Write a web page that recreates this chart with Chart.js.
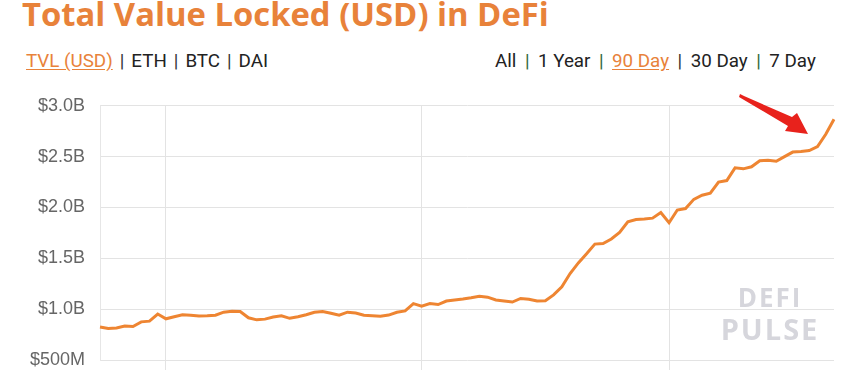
<!DOCTYPE html>
<html>
<head>
<meta charset="utf-8">
<script src="https://cdn.jsdelivr.net/npm/chart.js@4.4.0/dist/chart.umd.min.js"></script>
<style>
  html, body { margin:0; padding:0; background:#fff; width:859px; height:375px; overflow:hidden; }
  #wrap { position:relative; width:859px; height:375px; overflow:hidden; }
  #title { position:absolute; left:22px; top:-9px; font-family:"Open Sans", sans-serif; font-weight:700; font-size:32.8px; color:#e8823a; white-space:nowrap; }
  .row { position:absolute; top:50px; font-family:Roboto, sans-serif; font-size:18.8px; color:#222; white-space:nowrap; }
  .row .act { color:#e8823a; text-decoration:underline; text-underline-offset:2px; }
  .row .sep { color:#333; }
  .row .sepg { color:#2f6a3a; }
  #left .sep { padding:0 7px; }
  #right .sep, #right .sepg { padding:0 8.5px; }
  #left { left:26px; }
  #right { left:495px; }
  #chartbox { position:absolute; left:0; top:80px; width:859px; height:320px; }
  #wm { position:absolute; left:700px; top:282px; width:140px; text-align:center; font-family:"Open Sans", sans-serif; font-weight:700; color:#d6d6dc; line-height:31px; letter-spacing:2px; }
  #wm .a { font-size:26px; }
  #wm .b { font-size:29px; }
  #arrow { position:absolute; left:0; top:0; }
</style>
</head>
<body>
<div id="wrap">
  <div id="title">Total Value Locked (USD) in DeFi</div>
  <div class="row" id="left"><span class="act">TVL (USD)</span><span class="sep">|</span>ETH<span class="sep">|</span>BTC<span class="sep">|</span>DAI</div>
  <div class="row" id="right">All<span class="sepg">|</span>1 Year<span class="sepg">|</span><span class="act">90 Day</span><span class="sep">|</span>30 Day<span class="sepg">|</span>7 Day</div>
  <div id="chartbox"><canvas id="c"></canvas></div>
  <div id="wm"><div class="a">DEFI</div><div class="b">PULSE</div></div>
  <svg id="arrow" width="859" height="375">
    <polygon points="740,94 744,96 792,117 797,113 808,134 785,131 788,126 739,97" fill="#e8221c"/>
  </svg>
</div>
<script>
// Daily dates (Apr 23 – Jul 21, 2020)
const startDate = new Date(2020, 3, 23);
const dayCount = 90;
const dates = [];
for (let i = 0; i < dayCount; i++) {
  const d = new Date(startDate.getTime() + i * 86400000);
  dates.push(d);
}
const categories = dates.map(d => d.toLocaleDateString('en-US', { month: 'short', day: 'numeric' }));

// TVL in USD billions
const tvlBillions = [
  0.825, 0.81, 0.815, 0.835, 0.83, 0.875, 0.882, 0.952, 0.905, 0.925,
  0.945, 0.94, 0.932, 0.935, 0.94, 0.97, 0.98, 0.977, 0.915, 0.895,
  0.902, 0.922, 0.935, 0.91, 0.925, 0.945, 0.97, 0.977, 0.96, 0.94,
  0.97, 0.962, 0.94, 0.935, 0.93, 0.942, 0.97, 0.983, 1.055, 1.03,
  1.055, 1.045, 1.08, 1.09, 1.10, 1.112, 1.127, 1.118, 1.09, 1.08,
  1.07, 1.105, 1.098, 1.08, 1.083, 1.14, 1.22, 1.35, 1.455, 1.545,
  1.64, 1.645, 1.69, 1.755, 1.86, 1.882, 1.886, 1.895, 1.95, 1.85,
  1.975, 1.99, 2.08, 2.12, 2.14, 2.25, 2.265, 2.39, 2.38, 2.40,
  2.46, 2.465, 2.455, 2.50, 2.545, 2.55, 2.56, 2.60, 2.72, 2.868
];
const tvlUsd = tvlBillions.map(v => v * 1e9);

// Y tick values and month-start gridlines
const yTicks = [0.5e9, 1.0e9, 1.5e9, 2.0e9, 2.5e9, 3.0e9];
const monthStarts = dates.map((d, i) => d.getDate() === 1 ? i : -1).filter(i => i >= 0);

function fmtUsd(v) {
  if (v >= 1e9) return '$' + (v / 1e9).toFixed(1) + 'B';
  return '$' + Math.round(v / 1e6) + 'M';
}

new Chart(document.getElementById('c'), {
  type: 'line',
  data: {
    labels: categories,
    datasets: [{
      data: tvlUsd,
      borderColor: '#ee8532',
      borderWidth: 3,
      pointRadius: 0,
      tension: 0,
      fill: false
    }]
  },
  options: {
    responsive: true,
    maintainAspectRatio: false,
    animation: false,
    layout: { padding: { top: 19, right: 25, left: 0, bottom: 0 } },
    plugins: { legend: { display: false }, tooltip: { enabled: false } },
    scales: {
      x: {
        offset: false,
        border: { display: false },
        grid: {
          color: ctx => monthStarts.includes(ctx.index) ? '#e3e3e3' : 'rgba(0,0,0,0)',
          lineWidth: 1,
          tickLength: 10
        },
        ticks: {
          autoSkip: false,
          maxRotation: 0,
          color: '#666',
          font: { family: 'Liberation Sans, Arial, sans-serif', size: 18 },
          padding: 4,
          callback: (v, i) => monthStarts.includes(i) ? categories[i] : ''
        },
        afterFit: s => { s.height = 40; }
      },
      y: {
        min: 0.5e9,
        max: 3.0e9,
        border: { display: true, color: '#e6e6e6' },
        afterBuildTicks: s => { s.ticks = yTicks.map(v => ({ value: v })); },
        afterFit: s => { s.width = 100; },
        grid: { color: '#e3e3e3', lineWidth: 1, drawTicks: false },
        ticks: {
          color: '#666',
          padding: 15,
          font: { family: 'Liberation Sans, Arial, sans-serif', size: 18 },
          callback: v => fmtUsd(v)
        }
      }
    }
  }
});
</script>
</body>
</html>
